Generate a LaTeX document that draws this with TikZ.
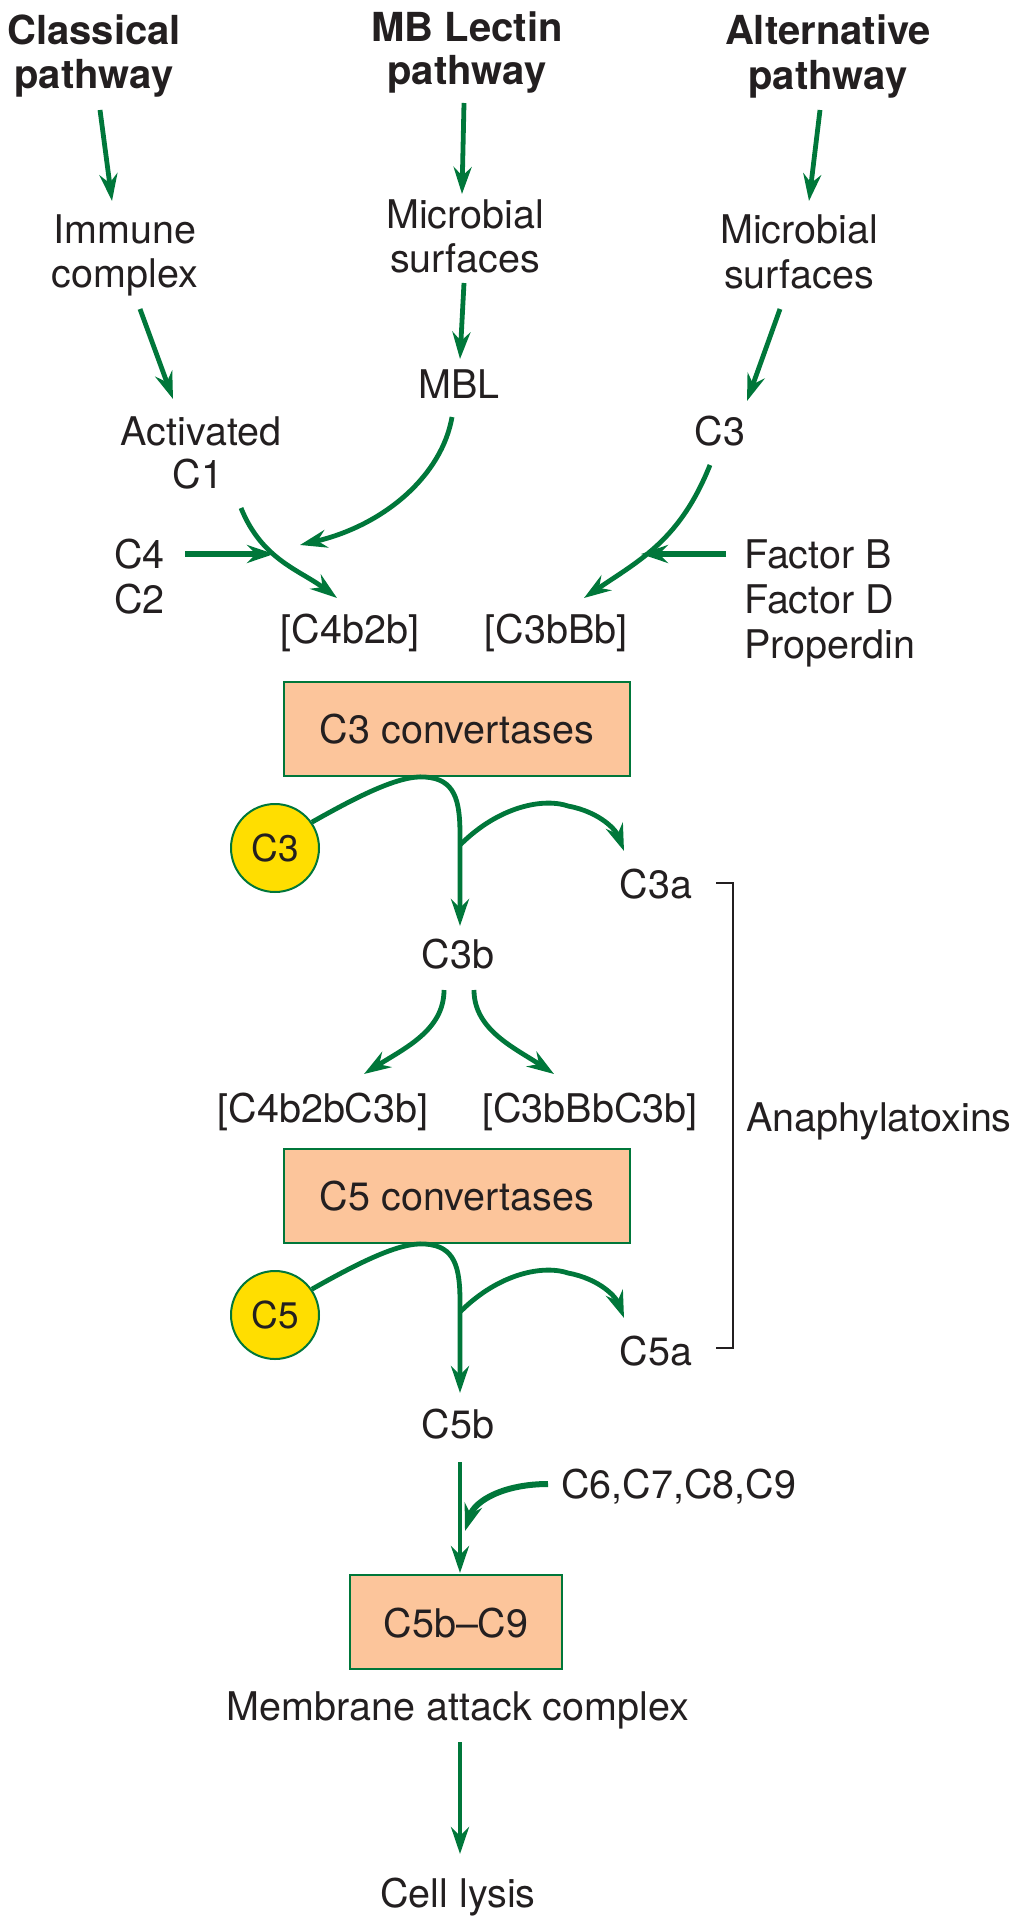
\documentclass[tikz,border=0pt]{standalone}
\usepackage{fontspec}
\setmainfont{TeX Gyre Heros}
\usetikzlibrary{arrows.meta}
\definecolor{grn}{HTML}{00773A}
\definecolor{peach}{HTML}{FCC59B}
\definecolor{yel}{HTML}{FFDE00}
\definecolor{txt}{HTML}{231F20}
\tikzset{
  lbl/.style={text=txt,inner sep=0pt,anchor=base,font=\fontsize{39.5}{44}\selectfont},
  lblw/.style={lbl,anchor=base west},
  head/.style={lbl,font=\fontsize{40}{44}\selectfont\bfseries},
  flow/.style={draw=grn,line width=4.8pt,-{Stealth[length=27pt,width=18pt,inset=9pt]}},
  thick flow/.style={flow,line width=6pt},
  convbox/.style={draw=grn,fill=peach,line width=2.2pt},
  substrate/.style={circle,draw=grn,fill=yel,line width=2pt,minimum size=88pt,inner sep=0pt,text=txt,font=\fontsize{37}{40}\selectfont},
  bracket/.style={draw=txt,line width=1.6pt}
}
\begin{document}
\begin{tikzpicture}[x=1pt,y=-1pt]
\useasboundingbox (0,0) rectangle (1023,1932);
% headings
\node[head] (h1a) at (94,45) {Classical};
\node[head] (h1b) at (94,89) {pathway};
\node[head] (h2a) at (467,42) {MB Lectin};
\node[head] (h2b) at (467,85) {pathway};
\node[head] (h3a) at (828,45) {Alternative};
\node[head] (h3b) at (828,90) {pathway};
% texts
\node[lbl] (ic1) at (125,243) {Immune};
\node[lbl] (ic2) at (125,287) {complex};
\node[lbl] (ms1) at (465,228) {Microbial};
\node[lbl] (ms2) at (465,272) {surfaces};
\node[lbl] (as1) at (799,243) {Microbial};
\node[lbl] (as2) at (799,288) {surfaces};
\node[lbl] (mbl) at (459,398) {MBL};
\node[lbl] (ac1) at (201,445) {Activated};
\node[lbl] (ac2) at (198,488) {C1};
\node[lbl] (c3alt) at (720,445) {C3};
\node[lblw] (c4) at (114,568) {C4};
\node[lblw] (c2) at (114,613) {C2};
\node[lblw] (fb) at (744,568) {Factor B};
\node[lblw] (fd) at (744,613) {Factor D};
\node[lblw] (pr) at (744,658) {Properdin};
\node[lbl] (c4b2b) at (350,643) {[C4b2b]};
\node[lbl] (c3bbb) at (556,643) {[C3bBb]};
% C3 convertases
\draw[convbox] (284,682) rectangle (630,776);
\node[lbl] (c3conv) at (457,743) {C3 convertases};
\node[substrate] (c3c) at (275,848) {C3};
\node[lbl] (c3a) at (656,898) {C3a};
\node[lbl] (c3b) at (458,968) {C3b};
\node[lbl] (c4c3) at (323,1122) {[C4b2bC3b]};
\node[lbl] (c3c3) at (590,1122) {[C3bBbC3b]};
\node[lblw] (ana) at (746,1131) {Anaphylatoxins};
% C5 convertases
\draw[convbox] (284,1149) rectangle (630,1243);
\node[lbl] (c5conv) at (457,1210) {C5 convertases};
\node[substrate] (c5c) at (275,1315) {C5};
\node[lbl] (c5a) at (656,1365) {C5a};
\node[lbl] (c5b) at (458,1438) {C5b};
\node[lblw] (c69) at (561,1498) {C6,C7,C8,C9};
\draw[convbox] (350,1575) rectangle (562,1669);
\node[lbl] (mac) at (456,1637) {C5b\textendash C9};
\node[lbl] (macl) at (458,1720) {Membrane attack complex};
\node[lbl] (lysis) at (458,1907) {Cell lysis};
% coordinates
\coordinate (a1s) at (100,110); \coordinate (a1e) at (112,201);
\coordinate (a2s) at (464,103); \coordinate (a2e) at (462,194);
\coordinate (a3s) at (820,110); \coordinate (a3e) at (809,201);
\coordinate (b1s) at (140,309); \coordinate (b1e) at (173,399);
\coordinate (b2s) at (464,283); \coordinate (b2e) at (460,359);
\coordinate (b3s) at (780,309); \coordinate (b3e) at (747,401);
\coordinate (mbls) at (452,417); \coordinate (mble) at (300,545);
\coordinate (c1s) at (241,508); \coordinate (c1e) at (337,598);
\coordinate (c4s) at (185,554); \coordinate (c4e) at (274,554);
\coordinate (c3s) at (710,465); \coordinate (c3e) at (584,598);
\coordinate (fbs) at (726,554); \coordinate (fbe) at (641,554);
% top arrows
\draw[flow] (a1s) -- (a1e);
\draw[flow] (a2s) -- (a2e);
\draw[flow] (a3s) -- (a3e);
\draw[flow] (b1s) -- (b1e);
\draw[flow] (b2s) -- (b2e);
\draw[flow] (b3s) -- (b3e);
\draw[flow] (mbls) .. controls (442,475) and (385,525) .. (mble);
\draw[flow] (c1s) .. controls (262,560) and (300,570) .. (c1e);
\draw[thick flow] (c4s) -- (c4e);
\draw[flow] (c3s) .. controls (680,540) and (640,560) .. (c3e);
\draw[thick flow] (fbs) -- (fbe);
% C3 cleavage
\coordinate (c3ap) at (425,777);
\coordinate (c3bend) at (460,926);
\coordinate (c3br) at (460,845);
\coordinate (c3ae) at (624,851);
\draw[flow] (c3c.35) .. controls (360,795) and (400,775) .. (c3ap)
   .. controls (455,779) and (460,800) .. (460,835) -- (c3bend);
\draw[flow] (c3br) .. controls (500,805) and (545,798) .. (568,806)
   .. controls (600,812) and (616,830) .. (c3ae);
% C3b split
\coordinate (l1s) at (444,990); \coordinate (l1e) at (364,1074);
\coordinate (r1s) at (474,990); \coordinate (r1e) at (554,1074);
\draw[flow] (l1s) .. controls (444,1030) and (405,1048) .. (l1e);
\draw[flow] (r1s) .. controls (474,1030) and (515,1048) .. (r1e);
% C5 cleavage
\coordinate (c5ap) at (425,1244);
\coordinate (c5bend) at (460,1393);
\coordinate (c5br) at (460,1312);
\coordinate (c5ae) at (624,1318);
\draw[flow] (c5c.35) .. controls (360,1262) and (400,1242) .. (c5ap)
   .. controls (455,1246) and (460,1267) .. (460,1302) -- (c5bend);
\draw[flow] (c5br) .. controls (500,1272) and (545,1265) .. (568,1273)
   .. controls (600,1279) and (616,1297) .. (c5ae);
% bracket
\coordinate (k1) at (716,883); \coordinate (k2) at (733,883);
\coordinate (k3) at (733,1348); \coordinate (k4) at (716,1348);
\draw[bracket] (k1) -- (k2) -- (k3) -- (k4);
% lower
\coordinate (d1s) at (460,1462); \coordinate (d1e) at (460,1573);
\coordinate (c6s) at (548,1484); \coordinate (c6e) at (465,1531);
\coordinate (d2s) at (460,1742); \coordinate (d2e) at (460,1854);
\draw[flow] (d1s) -- (d1e);
\draw[flow,line width=6pt] (c6s) .. controls (505,1484) and (475,1500) .. (c6e);
\draw[flow] (d2s) -- (d2e);
\end{tikzpicture}
\end{document}
